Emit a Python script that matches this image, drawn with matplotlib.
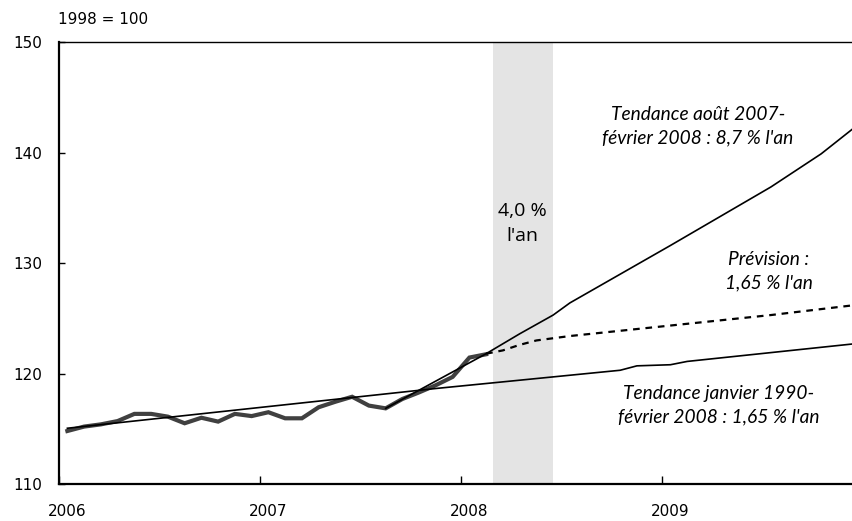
import matplotlib
matplotlib.use("Agg")
from matplotlib import pyplot as plt

# axe des x en mois depuis janvier 2006 (point d'un mois m placé en m + 0.5)
annees = ["2006", "2007", "2008", "2009"]

# indice mensuel, janvier 2006 - février 2008 (1998 = 100)
indice = [114.8, 115.2, 115.4, 115.7, 116.35, 116.35, 116.1, 115.5, 116.0, 115.65,
          116.35, 116.15, 116.5, 115.95, 115.95, 116.95, 117.45, 117.9, 117.1, 116.85,
          117.7, 118.3, 118.95, 119.7, 121.45, 121.75]

# tendance janvier 1990 - février 2008
tl_mois = [0, 22, 33, 34, 36, 37, 47]
tl_val = [115.05, 118.65, 120.3, 120.7, 120.8, 121.1, 122.7]

# tendance août 2007 - février 2008
tc_mois = [19, 25, 27, 29, 30, 36, 42, 45, 47]
tc_val = [116.85, 121.8, 123.6, 125.3, 126.4, 131.6, 136.9, 139.9, 142.3]

# prévision
pv_mois = [25, 26, 27, 28, 29, 30, 36, 42, 47]
pv_val = [121.8, 122.1, 122.6, 123.0, 123.2, 123.4, 124.35, 125.3, 126.2]

bande = (25.93, 29.47)

TXT = "DejaVu Sans"
ITA = "Lato"

fig = plt.figure(figsize=(8.53, 5.21), dpi=100)
ax = fig.add_axes([59 / 853, 37 / 521, 1 - 59 / 853, (484 - 42.3) / 521])

ax.axvspan(bande[0], bande[1], color="#e4e4e4", lw=0, zorder=0)

ax.plot([m + 0.5 for m in range(len(indice))], indice, color="#404040", lw=3.0,
        solid_joinstyle="miter", zorder=3)
ax.plot([m + 0.5 for m in tl_mois], tl_val, color="black", lw=1.2, zorder=4)
ax.plot([m + 0.5 for m in tc_mois], tc_val, color="black", lw=1.2, zorder=4)
ax.plot([m + 0.5 for m in pv_mois], pv_val, color="black", lw=1.6,
        linestyle=(0, (3, 2.6)), zorder=4)

ax.set_xlim(0, 47.4)
ax.set_ylim(110, 150)

ax.set_yticks([110, 120, 130, 140, 150])
ax.tick_params(axis="y", direction="in", length=4, width=1, pad=12,
               labelsize=11, labelfontfamily=TXT)
ax.set_xticks([0, 12, 24, 36])
ax.set_xticklabels([])
ax.tick_params(axis="x", which="major", direction="in", length=5.5, width=1)
ax.set_xticks([0.5, 12.5, 24.5, 36.5], minor=True)
ax.set_xticklabels(annees, minor=True, fontsize=11, family=TXT)
ax.tick_params(axis="x", which="minor", length=0, pad=14.5)

for s in ["left", "bottom"]:
    ax.spines[s].set_linewidth(1.6)
ax.spines["top"].set_linewidth(1.0)
ax.spines["right"].set_visible(False)

fig.text(58 / 853, 1 - 19 / 521, "1998 = 100", fontsize=11, family=TXT,
         ha="left", va="center")

ita = dict(fontsize=13.8, family=ITA, style="italic", ha="center", va="center",
           transform=None, linespacing=1.42)


def px(x, y):
    return fig.transFigure.transform((x / 853, 1 - y / 521))


ax.text(*px(698, 126), "Tendance août 2007-\nfévrier 2008 : 8,7 % l'an", **ita)
ax.text(*px(769, 271), "Prévision :\n1,65 % l'an", **ita)
ax.text(*px(719, 405), "Tendance janvier 1990-\nfévrier 2008 : 1,65 % l'an", **ita)
ax.text(*px(522, 224), "4,0 %\nl'an", fontsize=14, family="Open Sans", ha="center",
        va="center", transform=None, linespacing=1.5)

fig.savefig("out.png", dpi=100)
